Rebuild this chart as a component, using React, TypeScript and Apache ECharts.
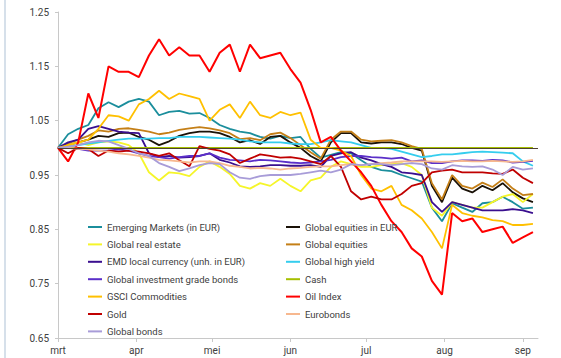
import React, { useEffect, useRef } from "react";
import * as echarts from "echarts";

const monthLabels = ["mrt", "apr", "mei", "jun", "jul", "aug", "sep"];
const monthDays = [31, 30, 31, 30, 31, 31, 7];
const yTicks = [0.65, 0.75, 0.85, 0.95, 1.05, 1.15, 1.25];

// sample positions: day offset from 1 March
const sampleDays = [0, 4, 8, 12, 16, 20, 24, 28, 32, 36, 40, 44, 48, 52, 56, 60, 64, 68, 72, 76, 80, 84, 88, 92, 96, 100, 104, 108, 112, 116, 120, 124, 128, 132, 136, 140, 144, 148, 152, 156, 160, 164, 168, 172, 176, 180, 184, 188];

const emergingMarkets = [1.0, 1.025, 1.035, 1.042, 1.073, 1.084, 1.075, 1.085, 1.09, 1.085, 1.06, 1.066, 1.068, 1.063, 1.064, 1.055, 1.042, 1.035, 1.03, 1.027, 1.02, 1.017, 1.022, 1.018, 1.02, 0.998, 0.982, 0.987, 0.992, 0.99, 0.977, 0.965, 0.959, 0.957, 0.95, 0.944, 0.938, 0.89, 0.865, 0.898, 0.89, 0.882, 0.898, 0.9, 0.91, 0.9, 0.888, 0.89];
const globalEquitiesEur = [1.0, 1.005, 1.01, 1.015, 1.022, 1.02, 1.027, 1.028, 1.02, 1.015, 1.005, 1.012, 1.022, 1.027, 1.03, 1.03, 1.027, 1.02, 1.01, 1.014, 1.007, 1.02, 1.022, 1.01, 1.0, 0.985, 0.975, 1.01, 1.027, 1.027, 1.01, 1.008, 1.01, 1.01, 1.007, 1.0, 0.995, 0.93, 0.9, 0.945, 0.925, 0.918, 0.93, 0.922, 0.935, 0.918, 0.907, 0.9];
const globalRealEstate = [1.0, 1.005, 1.01, 1.005, 1.01, 1.012, 1.01, 1.005, 0.99, 0.955, 0.94, 0.955, 0.953, 0.948, 0.965, 0.975, 0.965, 0.952, 0.93, 0.925, 0.935, 0.93, 0.943, 0.93, 0.92, 0.94, 0.945, 0.965, 0.975, 0.97, 0.965, 0.965, 0.968, 0.97, 0.972, 0.965, 0.95, 0.89, 0.875, 0.9, 0.895, 0.89, 0.89, 0.9, 0.91, 0.915, 0.9, 0.915];
const globalEquities = [1.0, 1.008, 1.015, 1.022, 1.032, 1.03, 1.035, 1.036, 1.033, 1.03, 1.025, 1.028, 1.033, 1.036, 1.038, 1.036, 1.032, 1.027, 1.016, 1.018, 1.014, 1.025, 1.028, 1.018, 1.005, 0.992, 0.98, 1.015, 1.03, 1.03, 1.015, 1.012, 1.013, 1.014, 1.01, 1.003, 0.998, 0.935, 0.905, 0.95, 0.93, 0.925, 0.936, 0.928, 0.942, 0.925, 0.913, 0.915];
const emdLocal = [1.0, 1.01, 1.015, 1.035, 1.04, 1.035, 1.03, 1.028, 1.027, 0.99, 0.983, 0.985, 0.982, 0.983, 0.985, 0.99, 0.978, 0.973, 0.966, 0.965, 0.966, 0.968, 0.968, 0.967, 0.967, 0.968, 0.965, 0.985, 0.99, 0.992, 0.982, 0.977, 0.97, 0.965, 0.955, 0.953, 0.95, 0.9, 0.882, 0.9, 0.895, 0.89, 0.885, 0.885, 0.885, 0.887, 0.885, 0.88];
const globalHighYield = [1.0, 1.002, 1.005, 1.008, 1.01, 1.013, 1.015, 1.017, 1.017, 1.017, 1.018, 1.018, 1.02, 1.02, 1.02, 1.019, 1.018, 1.017, 1.015, 1.012, 1.01, 1.01, 1.01, 1.008, 1.007, 1.007, 1.01, 1.014, 1.012, 1.01, 1.005, 1.0, 1.0, 0.998, 0.993, 0.988, 0.983, 0.985, 0.988, 0.988, 0.99, 0.992, 0.993, 0.992, 0.991, 0.99, 0.975, 0.967];
const globalIGBonds = [1.0, 1.0, 0.998, 0.995, 0.995, 0.995, 0.997, 0.995, 0.99, 0.985, 0.983, 0.98, 0.983, 0.985, 0.985, 0.99, 0.982, 0.978, 0.977, 0.975, 0.978, 0.977, 0.975, 0.973, 0.972, 0.973, 0.975, 0.978, 0.983, 0.985, 0.985, 0.983, 0.982, 0.98, 0.982, 0.975, 0.977, 0.972, 0.972, 0.975, 0.977, 0.977, 0.976, 0.978, 0.977, 0.973, 0.974, 0.976];
const cash = [1.0, 1.0, 1.0, 1.0, 1.0, 1.0, 1.0, 1.0, 1.0, 1.0, 1.0, 1.0, 1.0, 1.0, 1.0, 1.0, 1.0, 1.0, 1.0, 1.0, 1.0, 1.0, 1.0, 1.0, 1.0, 1.0, 1.0, 1.0, 1.0, 1.0, 1.0, 1.0, 1.0, 1.0, 1.0, 1.0, 1.0, 1.0, 1.0, 1.0, 1.0, 1.0, 1.0, 1.0, 1.0, 1.0, 1.0, 1.0];
const gsciCommodities = [1.0, 1.005, 1.01, 1.015, 1.035, 1.06, 1.058, 1.05, 1.08, 1.09, 1.105, 1.09, 1.1, 1.095, 1.09, 1.05, 1.07, 1.08, 1.055, 1.085, 1.06, 1.055, 1.066, 1.06, 1.065, 1.015, 1.0, 1.0, 0.995, 0.985, 0.95, 0.925, 0.92, 0.93, 0.895, 0.885, 0.87, 0.845, 0.815, 0.895, 0.88, 0.875, 0.872, 0.867, 0.865, 0.858, 0.858, 0.86];
const oilIndex = [1.0, 0.975, 1.01, 1.1, 1.055, 1.15, 1.14, 1.14, 1.13, 1.17, 1.2, 1.17, 1.185, 1.17, 1.17, 1.14, 1.175, 1.19, 1.14, 1.19, 1.165, 1.17, 1.175, 1.145, 1.12, 1.07, 1.01, 1.02, 0.995, 0.975, 0.955, 0.93, 0.895, 0.865, 0.845, 0.815, 0.8, 0.755, 0.73, 0.88, 0.865, 0.87, 0.845, 0.85, 0.855, 0.825, 0.835, 0.845];
const gold = [1.0, 0.99, 1.0, 0.998, 0.985, 0.995, 0.993, 0.995, 0.993, 0.99, 0.985, 0.99, 0.977, 0.966, 1.003, 0.998, 0.995, 0.988, 0.972, 0.98, 0.988, 0.985, 0.982, 0.983, 0.98, 0.975, 0.97, 0.985, 0.965, 0.92, 0.905, 0.91, 0.905, 0.905, 0.915, 0.93, 0.935, 0.955, 0.958, 0.96, 0.955, 0.955, 0.955, 0.953, 0.952, 0.96, 0.945, 0.935];
const eurobonds = [1.0, 1.0, 0.998, 0.997, 0.995, 0.993, 0.99, 0.988, 0.985, 0.982, 0.978, 0.977, 0.975, 0.973, 0.975, 0.975, 0.972, 0.967, 0.965, 0.962, 0.963, 0.962, 0.96, 0.962, 0.963, 0.965, 0.966, 0.966, 0.968, 0.97, 0.968, 0.97, 0.972, 0.973, 0.975, 0.975, 0.975, 0.975, 0.974, 0.975, 0.976, 0.975, 0.975, 0.976, 0.975, 0.974, 0.975, 0.978];
const globalBonds = [1.0, 1.002, 1.005, 1.01, 1.013, 1.012, 1.005, 0.998, 0.99, 0.985, 0.972, 0.965, 0.957, 0.962, 0.968, 0.972, 0.97, 0.955, 0.945, 0.943, 0.948, 0.95, 0.95, 0.95, 0.952, 0.955, 0.958, 0.955, 0.96, 0.97, 0.968, 0.97, 0.97, 0.968, 0.97, 0.972, 0.97, 0.962, 0.96, 0.968, 0.966, 0.965, 0.966, 0.96, 0.95, 0.965, 0.96, 0.962];

const seriesDefs = [
  { name: "Emerging Markets (in EUR)", color: "#1b8e9c", values: emergingMarkets },
  { name: "Global equities in EUR", color: "#1a1208", values: globalEquitiesEur },
  { name: "Global real estate", color: "#f5f52a", values: globalRealEstate },
  { name: "Global equities", color: "#c47f17", values: globalEquities },
  { name: "EMD local currency (unh. in EUR)", color: "#3a0f8f", values: emdLocal },
  { name: "Global high yield", color: "#35cdee", values: globalHighYield },
  { name: "Global investment grade bonds", color: "#5b2fc9", values: globalIGBonds },
  { name: "Cash", color: "#a6bf00", values: cash },
  { name: "GSCI Commodities", color: "#ffc000", values: gsciCommodities },
  { name: "Oil Index", color: "#ff0000", values: oilIndex },
  { name: "Gold", color: "#c00000", values: gold },
  { name: "Eurobonds", color: "#f7b88f", values: eurobonds },
  { name: "Global bonds", color: "#a89cd8", values: globalBonds },
];

const legendLeft = ["Emerging Markets (in EUR)", "Global real estate", "EMD local currency (unh. in EUR)", "Global investment grade bonds", "GSCI Commodities", "Gold", "Global bonds"];
const legendRight = ["Global equities in EUR", "Global equities", "Global high yield", "Cash", "Oil Index", "Eurobonds"];

const FONT = "Roboto, 'DejaVu Sans Condensed', sans-serif";

export default function App() {
  const ref = useRef<HTMLDivElement>(null);
  useEffect(() => {
    if (!ref.current) return;
    const chart = echarts.init(ref.current, null, { renderer: "svg" });
    const categories: string[] = [];
    monthDays.forEach((n, mi) => {
      for (let d = 1; d <= n; d++) categories.push(`${mi}-${d}`);
    });
    const isMonthStart = (_i: number, v: string) => String(v).split("-")[1] === "1";
    const legendCommon = {
      orient: "vertical" as const,
      icon: "rect",
      itemWidth: 14,
      itemHeight: 2,
      itemGap: 3.4,
      selectedMode: false,
      textStyle: { fontFamily: FONT, fontSize: 9.5, color: "#404040", lineHeight: 14 },
    };
    chart.setOption({
      animation: false,
      backgroundColor: "#ffffff",
      textStyle: { fontFamily: FONT },
      graphic: [
        { type: "line", shape: { x1: 5, y1: 0, x2: 5, y2: 358 }, style: { stroke: "#c9d6e3", lineWidth: 1.5 } },
      ],
      legend: [
        { ...legendCommon, left: 83, top: 215, data: legendLeft },
        { ...legendCommon, left: 281, top: 215, data: legendRight },
      ],
      grid: { left: 58, right: 23, top: 12, bottom: 20 },
      xAxis: {
        type: "category",
        data: categories,
        boundaryGap: false,
        axisLine: { lineStyle: { color: "#c8c8c8", width: 1 } },
        axisTick: { show: true, interval: isMonthStart, length: 4, lineStyle: { color: "#c8c8c8" } },
        axisLabel: {
          interval: isMonthStart,
          formatter: (v: string) => monthLabels[Number(String(v).split("-")[0])],
          fontFamily: FONT,
          fontSize: 10,
          color: "#404040",
          margin: 7,
        },
        splitLine: { show: false },
      },
      yAxis: {
        type: "value",
        min: 0.65,
        max: 1.25,
        axisLine: { show: true, lineStyle: { color: "#c8c8c8", width: 1 } },
        axisTick: { show: true, length: 3, customValues: yTicks, lineStyle: { color: "#c8c8c8" } },
        axisLabel: {
          customValues: yTicks,
          formatter: (v: number) => v.toFixed(2),
          fontFamily: FONT,
          fontSize: 10,
          color: "#404040",
          margin: 9,
        },
        splitLine: { show: false },
      },
      series: seriesDefs.map((s) => ({
        name: s.name,
        type: "line",
        data: sampleDays.map((d, i) => [d, s.values[i]]),
        showSymbol: false,
        symbol: "none",
        color: s.color,
        lineStyle: { color: s.color, width: s.name === "Oil Index" ? 2 : 1.8 },
        emphasis: { disabled: true },
        markLine: s.name === "Cash"
          ? {
              silent: true,
              symbol: "none",
              label: { show: false },
              lineStyle: { color: "#4d4030", width: 1, type: "solid" },
              data: [{ yAxis: 1 }],
            }
          : undefined,
      })),
    });
    return () => chart.dispose();
  }, []);
  return <div ref={ref} style={{ position: "fixed", left: 0, top: 0, width: 561, height: 358, background: "#fff" }} />;
}
